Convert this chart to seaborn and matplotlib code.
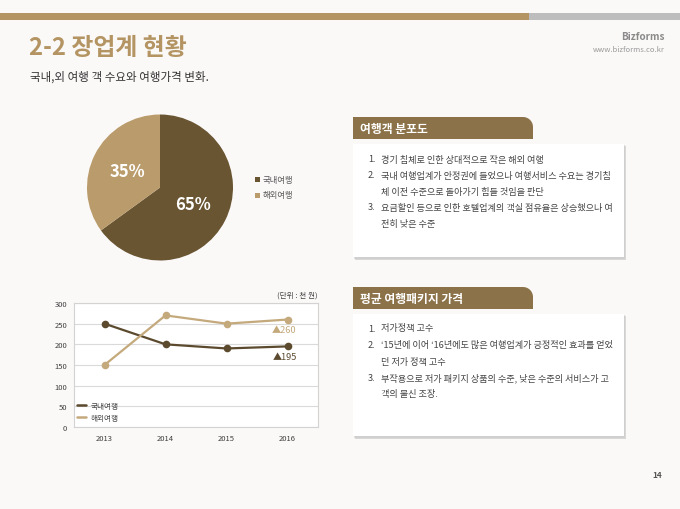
import numpy as np
import pandas as pd
import matplotlib
matplotlib.use("Agg")
import matplotlib.pyplot as plt
import matplotlib.patches as mpatches
from matplotlib.lines import Line2D
import seaborn as sns

# ---------------- data ----------------
pie_labels = ["국내여행", "해외여행"]
pie_shares = [65, 35]

years = [2013, 2014, 2015, 2016]
domestic = [250, 200, 190, 195]
overseas = [150, 270, 250, 260]
series_names = ["국내여행", "해외여행"]
y_ticks = [0, 50, 100, 150, 200, 250, 300]

title = "2-2 장업계 현황"
subtitle = "국내,외 여행 객 수요와 여행가격 변화."
unit_label = "(단위 : 천 원)"

box1_title = "여행객 분포도"
box1_lines = [
    ("1.", "경기 침체로 인한 상대적으로 작은 해외 여행"),
    ("2.", "국내 여행업계가 안정권에 들었으나 여행서비스 수요는 경기침"),
    ("", "체 이전 수준으로 돌아가기 힘들 것임을 판단"),
    ("3.", "요금할인 등으로 인한 호텔업계의 객실 점유율은 상승했으나 여"),
    ("", "전히 낮은 수준"),
]
box2_title = "평균 여행패키지 가격"
box2_lines = [
    ("1.", "저가정책 고수"),
    ("2.", "‘15년에 이어 ‘16년에도 많은 여행업계가 긍정적인 효과를 얻었"),
    ("", "던 저가 정책 고수"),
    ("3.", "부작용으로 저가 패키지 상품의 수준, 낮은 수준의 서비스가 고"),
    ("", "객의 불신 조장."),
]
page_no = "14"

# ---------------- style ----------------
sns.set_theme(style="white")
plt.rcParams["font.family"] = ["Noto Sans CJK KR", "DejaVu Sans"]

W, H = 680, 510
DARK = "#6A5533"
LIGHT = "#BA9C6C"
LINE_DARK = "#5C4A2F"
LINE_LIGHT = "#C4A97C"
GOLD = "#B39462"
TAB = "#8C7249"

fig = plt.figure(figsize=(6.8, 5.1), dpi=100)
fig.patch.set_facecolor("#FBF9F8")


def fx(x):
    return x / W


def fy(y):
    return 1 - y / H


def rect(x0, y0, x1, y1, **kw):
    return mpatches.Rectangle((fx(x0), fy(y1)), fx(x1) - fx(x0), fy(y0) - fy(y1),
                              transform=fig.transFigure, **kw)


# top bars
fig.patches.append(rect(0, 14, 529, 20.5, color=GOLD, lw=0))
fig.patches.append(rect(529, 14, 680, 20.5, color="#BDBDBD", lw=0))

# header texts
fig.text(fx(29), fy(48), title, fontsize=17.2, fontweight="bold", color=GOLD, va="center", ha="left")
fig.text(fx(30), fy(77), subtitle, fontsize=8.3, color="#333333", va="center", ha="left")
fig.text(fx(665), fy(37), "Bizforms", fontsize=7.2, fontweight="bold", color="#8A8A8A", ha="right", va="center")
fig.text(fx(665), fy(50), "www.bizforms.co.kr", fontsize=5.5, color="#9A9A9A", ha="right", va="center")
fig.text(fx(662), fy(476), page_no, fontsize=6, fontweight="bold", color="#555555", ha="right", va="center")


def tab(x0, y0, x1, y1, r):
    pts = [(x0, y1), (x0, y0), (x1 - r, y0)]
    ang = np.linspace(90, 0, 12)
    cx, cy = x1 - r, y0 + r
    for a in ang:
        pts.append((cx + r * np.cos(np.radians(a)), cy - r * np.sin(np.radians(a))))
    pts.append((x1, y1))
    pts_f = [(fx(px), fy(py)) for px, py in pts]
    return mpatches.Polygon(pts_f, closed=True, transform=fig.transFigure, color=TAB, lw=0)


def text_box(top, title_txt, lines, box_top, box_bot, line_y0, line_dy):
    fig.patches.append(tab(353, top, 533, top + 22, 10))
    fig.text(fx(360), fy(top + 11), title_txt, fontsize=8.5, fontweight="bold", color="white",
             ha="left", va="center")
    # shadow
    fig.patches.append(rect(355, box_top + 2, 626, box_bot + 3, color="#9C9C9C", alpha=0.35, lw=0))
    fig.patches.append(rect(354, box_top + 1, 625, box_bot + 1.5, color="#C8C8C8", alpha=0.5, lw=0))
    fig.patches.append(rect(353, box_top, 624, box_bot, color="white", lw=0))
    for i, (num, txt) in enumerate(lines):
        yy = line_y0 + i * line_dy
        if num:
            fig.text(fx(368), fy(yy), num, fontsize=6.6, color="#444444", ha="left", va="center")
        fig.text(fx(381), fy(yy), txt, fontsize=6.6, color="#444444", ha="left", va="center")


text_box(118, box1_title, box1_lines, 145, 258, 160, 16)
text_box(288, box2_title, box2_lines, 315, 437, 329, 16.5)

# ---------------- pie ----------------
cx, cy, r = 160, 188.5, 73
ax_pie = fig.add_axes([fx(cx - r), fy(cy + r), fx(2 * r), (2 * r) / H])
wedges, texts, autotexts = ax_pie.pie(
    pie_shares, colors=[DARK, LIGHT], startangle=90, counterclock=False,
    autopct="%d%%", pctdistance=0.5, wedgeprops=dict(linewidth=0),
    textprops=dict(color="white", fontsize=12, fontweight="bold"))
ax_pie.set_xlim(-1, 1)
ax_pie.set_ylim(-1, 1)
ax_pie.set_aspect("equal")
ax_pie.axis("off")

for i, lab in enumerate(pie_labels):
    yy = 180 + i * 16
    fig.patches.append(rect(255, yy - 2.5, 260, yy + 2.5, color=[DARK, LIGHT][i], lw=0))
    fig.text(fx(263), fy(yy), lab, fontsize=6, color="#555555", ha="left", va="center")

# ---------------- line chart ----------------
df = pd.DataFrame({
    "year": years * 2,
    "value": domestic + overseas,
    "series": [series_names[0]] * len(years) + [series_names[1]] * len(years),
})
ax = fig.add_axes([fx(74), fy(428), fx(318) - fx(74), (428 - 304) / H])
ax.set_facecolor("white")
sns.lineplot(data=df, x="year", y="value", hue="series", hue_order=series_names,
             palette=[LINE_DARK, LINE_LIGHT], marker="o", markersize=5.5,
             markeredgewidth=0, linewidth=1.6, legend=False, ax=ax)
ax.set_xlim(years[0] - 0.5, years[-1] + 0.5)
ax.set_ylim(y_ticks[0], y_ticks[-1])
ax.set_xticks(years)
ax.set_xticklabels([str(y) for y in years])
ax.set_yticks(y_ticks)
ax.set_xlabel("")
ax.set_ylabel("")
ax.grid(axis="y", color="#DADADA", linewidth=0.8)
ax.grid(axis="x", visible=False)
for s in ax.spines.values():
    s.set_visible(True)
    s.set_color("#D3D3D3")
    s.set_linewidth(0.8)
ax.tick_params(axis="both", length=0, labelsize=5.5, labelcolor="#404040")
ax.tick_params(axis="y", pad=5)
ax.tick_params(axis="x", pad=5)

ax.text(years[-1] - 0.05, overseas[-1] - 24, "▲" + str(overseas[-1]), color=LINE_LIGHT, fontsize=6.6,
        ha="center", va="center")
ax.text(years[-1] - 0.05, domestic[-1] - 24, "▲" + str(domestic[-1]), color=LINE_DARK, fontsize=6.6,
        ha="center", va="center")

handles = [Line2D([0], [0], color=LINE_DARK, lw=1.8), Line2D([0], [0], color=LINE_LIGHT, lw=1.8)]
ax.legend(handles, series_names, loc="lower left", bbox_to_anchor=(-0.015, -0.015), frameon=False,
          fontsize=5.5, handlelength=1.1, handletextpad=0.6, labelspacing=0.5,
          labelcolor="#444444")

fig.text(fx(318), fy(296), unit_label, fontsize=5.5, color="#444444", ha="right", va="center")

fig.savefig("out.png", dpi=100, facecolor=fig.get_facecolor())
